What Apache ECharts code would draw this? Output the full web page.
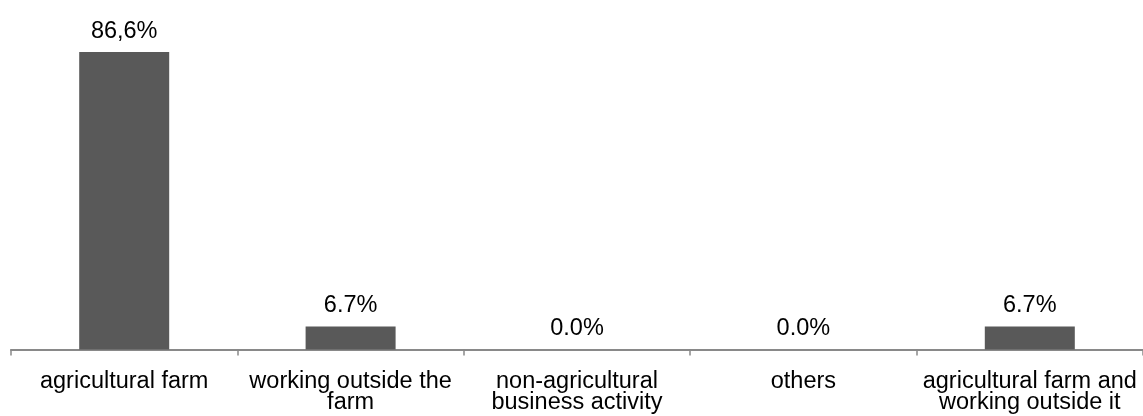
<!DOCTYPE html>
<html>
<head>
<meta charset="utf-8">
<script src="https://cdn.jsdelivr.net/npm/echarts@6/dist/echarts.min.js"></script>
<style>
  html, body { margin: 0; padding: 0; background: #ffffff; }
  #chart { width: 1143px; height: 416px; }
</style>
</head>
<body>
<div id="chart"></div>
<script>
// Main source of income (share of respondents, %)
const categories = [
  'agricultural farm',
  'working outside the\nfarm',
  'non-agricultural\nbusiness activity',
  'others',
  'agricultural farm and\nworking outside it'
];
const shares = [86.6, 6.7, 0.0, 0.0, 6.7];
// decimal separator used in each value label
const decimalMarks = [',', '.', '.', '.', '.'];

const chart = echarts.init(document.getElementById('chart'), null, { renderer: 'canvas' });

const FONT = '"Liberation Sans", Arial, sans-serif';

chart.setOption({
  animation: false,
  backgroundColor: '#ffffff',
  grid: { left: 11, right: 0, top: 6, bottom: 66.5, containLabel: false },
  xAxis: {
    type: 'category',
    data: categories,
    axisLine: { show: true, lineStyle: { color: '#898989', width: 2 } },
    axisTick: { show: true, length: 6, lineStyle: { color: '#898989', width: 1.5 } },
    axisLabel: {
      color: '#000000',
      fontFamily: FONT,
      fontSize: 23.5,
      lineHeight: 21.5,
      margin: 21,
      interval: 0
    }
  },
  yAxis: {
    type: 'value',
    min: 0,
    max: 100,
    show: false,
    splitLine: { show: false }
  },
  series: [{
    type: 'bar',
    data: shares,
    barWidth: 90,
    itemStyle: { color: '#595959' },
    label: {
      show: true,
      position: 'top',
      distance: 9,
      color: '#000000',
      fontFamily: FONT,
      fontSize: 23.5,
      formatter: p => p.value.toFixed(1).replace('.', decimalMarks[p.dataIndex]) + '%'
    }
  }]
});
</script>
</body>
</html>
